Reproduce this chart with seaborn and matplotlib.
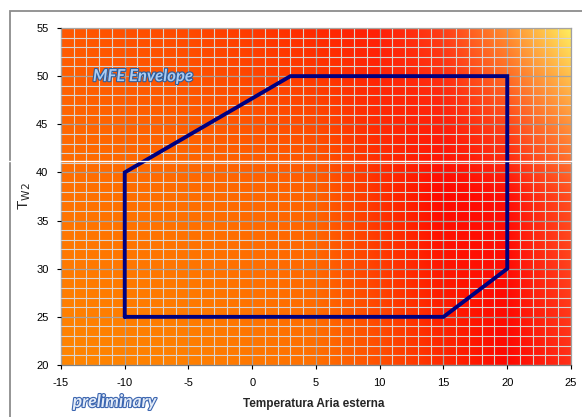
#!/usr/bin/env python3
"""MFE envelope over outdoor air temperature vs T_W2."""

import matplotlib

matplotlib.use("Agg")
import matplotlib.pyplot as plt
import matplotlib.patheffects as pe
import numpy as np
import pandas as pd
import seaborn as sns
from matplotlib.lines import Line2D
from matplotlib.patches import Rectangle

# envelope vertices (closed polygon)
env_x = [-10, -10, 3, 20, 20, 15, -10]
env_y = [25, 40, 50, 50, 30, 25, 25]

x_ticks = [-15, -10, -5, 0, 5, 10, 15, 20, 25]
y_ticks = [20, 25, 30, 35, 40, 45, 50, 55]

x_label = "Temperatura Aria esterna"
y_label = "T$_{\\mathrm{W2}}$"
title_text = "MFE Envelope"
stamp_text = "preliminary"

# background shading anchors (green / blue channel, red is always full)
bg_x = [-15, -5, 5, 10, 15, 20, 25]
bg_y = [20, 37.5, 55]
bg_g = [[0x86, 0x80, 0x70, 0x50, 0x28, 0x08, 0x30],
        [0x72, 0x6E, 0x62, 0x30, 0x08, 0x10, 0x50],
        [0x58, 0x48, 0x28, 0x20, 0x40, 0x90, 0xF0]]
bg_b = [[0x00, 0x00, 0x00, 0x00, 0x00, 0x00, 0x18],
        [0x00, 0x00, 0x00, 0x00, 0x00, 0x08, 0x20],
        [0x00, 0x00, 0x00, 0x08, 0x18, 0x30, 0x60]]

sns.set_style("white")
plt.rcParams["font.family"] = ["Liberation Sans", "DejaVu Sans"]
plt.rcParams["axes.unicode_minus"] = False


def shade(channel, xs, ys):
    """Bilinear blend of an anchor table onto the grid."""
    ch = np.asarray(channel, dtype=float)
    rows = np.array([np.interp(xs, bg_x, r) for r in ch])
    return np.array([np.interp(ys, bg_y, rows[:, j]) for j in range(len(xs))]).T / 255.0


fig = plt.figure(figsize=(5.82, 4.17), dpi=100)
ax = fig.add_axes([0.1048, 0.1247, 0.8763, 0.8082])

xs = np.linspace(-15, 25, 400)
ys = np.linspace(20, 55, 350)
g = shade(bg_g, xs, ys)
b = shade(bg_b, xs, ys)
img = np.dstack([np.ones_like(g), g, b])
ax.imshow(img, extent=(-15, 25, 20, 55), origin="lower", aspect="auto",
          zorder=0, interpolation="bilinear")

ax.set_xlim(-15, 25)
ax.set_ylim(20, 55)
ax.set_xticks(x_ticks)
ax.set_yticks(y_ticks)
ax.set_xticks(np.arange(-15, 26, 1), minor=True)
ax.set_yticks(np.arange(20, 56, 1), minor=True)
ax.grid(which="minor", color="#D8D4D0", linewidth=0.8, zorder=1)
ax.grid(which="major", color="#A8A4A0", linewidth=0.9, zorder=1)
ax.set_axisbelow(False)
ax.tick_params(which="minor", length=0)
ax.tick_params(which="major", direction="out", length=3, width=0.8,
               labelsize=8, colors="#000000", pad=6, left=True, bottom=True)
for sp in ax.spines.values():
    sp.set_color("#A0A0A0")
    sp.set_linewidth(0.9)
ax.spines["left"].set_color("#808080")
ax.spines["bottom"].set_color("#808080")

env = pd.DataFrame({"x": env_x, "y": env_y})
sns.lineplot(data=env, x="x", y="y", sort=False, estimator=None,
             color="#000080", linewidth=2.8, ax=ax, zorder=3)
for ln in ax.lines:
    ln.set_solid_joinstyle("miter")

ax.set_xlabel(x_label, fontsize=8.5, fontweight="bold")
ax.set_ylabel(y_label, fontsize=11)
ax.xaxis.set_label_coords(0.495, -0.098)
ax.yaxis.set_label_coords(-0.055, 0.5)

ax.text(-12.5, 50, title_text, fontsize=12, fontstyle="italic", fontweight="bold",
        family=["Lato", "DejaVu Sans"], color="#A9CBF2", va="center", ha="left", zorder=4,
        path_effects=[pe.withStroke(linewidth=1.6, foreground="#2E5C9A")])

fig.text(0.125, 0.036, stamp_text, fontsize=12.5, fontstyle="italic", fontweight="bold",
         family=["Lato", "DejaVu Sans"], color="#E4ECF8", va="center", ha="left",
         path_effects=[pe.withStroke(linewidth=1.6, foreground="#3C66B0")])

# outer chart border and white seam
fig.add_artist(Rectangle((10 / 582, -0.1), 1.2, 0.1 + 1 - 11 / 417, transform=fig.transFigure,
                         fill=False, edgecolor="#8C8C8C", linewidth=1.3))
fig.add_artist(Line2D([0, 1], [1 - 161 / 417] * 2, transform=fig.transFigure,
                      color="white", linewidth=1.0))

fig.savefig("out.png", dpi=100)
